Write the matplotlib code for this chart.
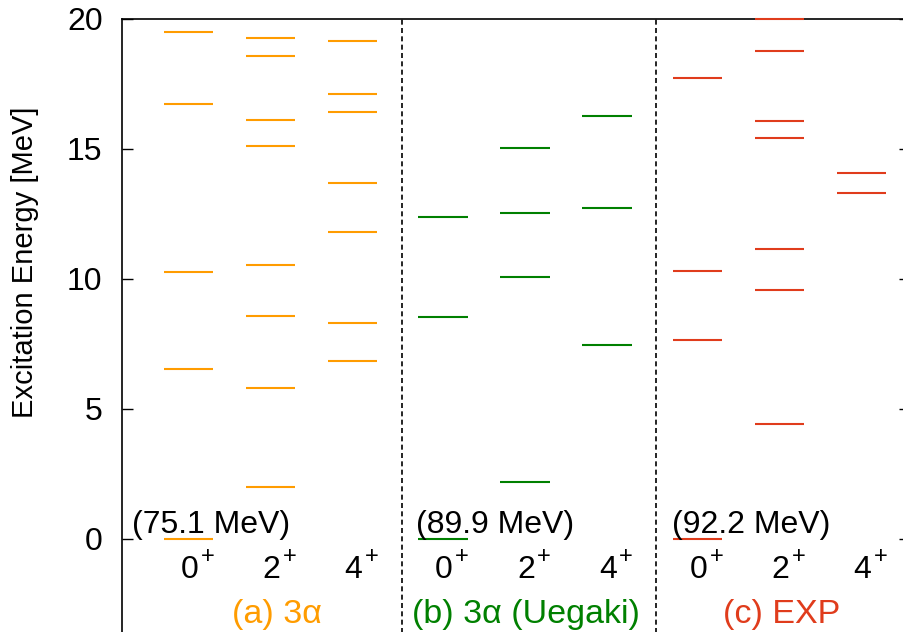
import matplotlib
matplotlib.use('Agg')
import matplotlib.pyplot as plt

plt.rcParams['font.family'] = ['Liberation Sans', 'DejaVu Sans']

# excitation energies [MeV] for each spin, per model
spins = ['0', '2', '4']
levels_3a = [
    [0.0, 6.54, 10.26, 16.72, 19.49],
    [2.0, 5.82, 8.58, 10.53, 15.12, 16.12, 18.59, 19.26],
    [6.86, 8.32, 11.81, 13.70, 16.41, 17.10, 19.15],
]
levels_uegaki = [
    [0.0, 8.53, 12.40],
    [2.20, 10.06, 12.53, 15.03],
    [7.45, 12.72, 16.28],
]
levels_exp = [
    [0.0, 7.64, 10.30, 17.73],
    [4.42, 9.59, 11.15, 15.44, 16.09, 18.78, 20.0],
    [13.30, 14.08],
]
ground_energy = ['(75.1 MeV)', '(89.9 MeV)', '(92.2 MeV)']
panel_names = ['(a) 3α', '(b) 3α (Uegaki)', '(c) EXP']
colors = ['#ff9c00', '#008000', '#e03c1c']

fig = plt.figure(figsize=(9.04, 6.32), dpi=100)
ax = fig.add_axes([122 / 904, -37 / 632, 788 / 904, 650 / 632])

panel_x0 = [0.811, 3.915, 7.018]
text_x = [0.122, 3.585, 6.707]
name_x = [1.89, 4.93, 8.04]
half = 0.3
fs = 23

for p, levels in enumerate([levels_3a, levels_uegaki, levels_exp]):
    for j, energies in enumerate(levels):
        xc = panel_x0[p] + j
        for e in energies:
            ax.plot([xc - half, xc + half], [e, e], color=colors[p], lw=1.5,
                    solid_capstyle='butt', zorder=3, clip_on=False)
        # spin label: digit plus a raised "+"
        ax.annotate(spins[j], (xc, -1.5), xytext=(1, 0),
                    textcoords='offset pixels', ha='center', va='baseline',
                    fontsize=fs)
        ax.annotate('+', (xc, -1.5), xytext=(12, 21),
                    textcoords='offset pixels', ha='left', va='center',
                    fontsize=17)
    ax.text(text_x[p], 0.23, ground_energy[p], ha='left', va='baseline',
            fontsize=fs)
    ax.text(name_x[p], -3.23, panel_names[p], ha='center',
            va='baseline', fontsize=24.5, color=colors[p])

# panel separators
for xd in [3.41, 6.51]:
    ax.axvline(xd, color='black', lw=1.2, ls=(0, (3, 2)))

ax.set_xlim(0, 788 / 82)
ax.set_ylim(-5, 20)
ax.set_xticks([])
ax.set_yticks([0, 5, 10, 15, 20])
ax.tick_params(axis='y', direction='in', length=8, width=1, right=True,
               labelsize=fs, pad=14)
for s in ax.spines.values():
    s.set_linewidth(1.2)

fig.text(25 / 904, 1 - 262 / 632, 'Excitation Energy [MeV]', rotation=90,
         ha='center', va='center', fontsize=21)

fig.savefig('out.png', dpi=100)
